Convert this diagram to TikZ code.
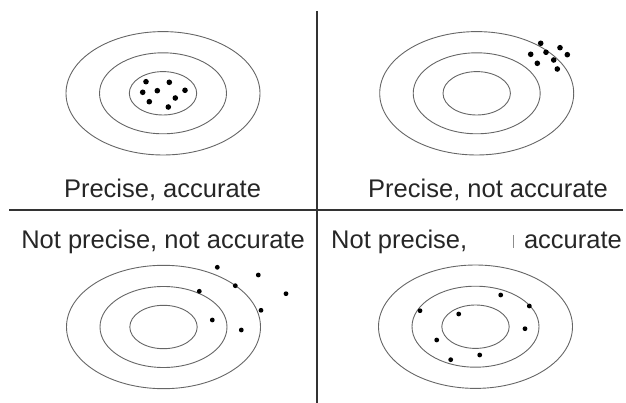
\documentclass[tikz,border=0pt]{standalone}
\usepackage{fontspec}
\setmainfont{Liberation Sans}
\begin{document}
\begin{tikzpicture}[x=1pt,y=-1pt,
  ring/.style={draw=black!60, line width=0.9pt},
  hit/.style={circle, fill=black, inner sep=0pt, minimum size=5.6pt},
  lab/.style={inner sep=0pt, text=black!85, font=\fontsize{25.5}{30}\selectfont},
  rule/.style={draw=black!80, line width=2pt}]
\useasboundingbox (0,0) rectangle (626,403);
% dividers
\coordinate (vt) at (317,11);
\coordinate (vb) at (317,403);
\coordinate (hl) at (9,210);
\coordinate (hr) at (623,210);
\draw[rule] (vt) -- (vb);
\draw[rule] (hl) -- (hr);
% targets
\foreach \cx/\cy [count=\i] in {163/93.3, 476.7/93.3, 163.5/327, 475.5/326.7}{
  \coordinate (t\i) at (\cx,\cy);
  \draw[ring] (t\i) ellipse [x radius=97, y radius=61.7];
  \draw[ring] (t\i) ellipse [x radius=63.5, y radius=40.5];
  \draw[ring] (t\i) ellipse [x radius=33.7, y radius=21.7];
}
% hits: precise, accurate
\foreach \x/\y [count=\i] in {146/81.7, 169.3/82.3, 142.7/92.3, 157.3/90.7, 185/90.3, 149.3/101.7, 175.3/98, 168.3/107}
  \node[hit] (a\i) at (\x,\y) {};
% hits: precise, not accurate
\foreach \x/\y [count=\i] in {540.7/43.3, 560/47.7, 530.7/54.3, 546/52.3, 567.3/54.7, 537.3/63.3, 553.7/60, 557.3/69}
  \node[hit] (b\i) at (\x,\y) {};
% hits: not precise, not accurate
\foreach \x/\y [count=\i] in {217.3/267.3, 258.3/275, 235.3/285.7, 286/293.7, 199.3/291.3, 261/310.3, 212.3/320, 241.3/330}
  \node[hit, minimum size=4.8pt] (c\i) at (\x,\y) {};
% hits: not precise, accurate
\foreach \x/\y [count=\i] in {500.7/295, 529.3/306, 420/310.7, 458.7/314, 525/328.7, 436.7/340, 479.7/355, 450.7/359.7}
  \node[hit, minimum size=4.8pt] (d\i) at (\x,\y) {};
% labels
\node[lab, anchor=base] (l1) at (162.5,198) {Precise, accurate};
\node[lab, anchor=base] (l2) at (488,198) {Precise, not accurate};
\node[lab, anchor=base] (l3) at (163,248) {Not precise, not accurate};
\node[lab, anchor=base west] (l4) at (331,248) {Not precise,};
\node[lab, anchor=base east] (l5) at (622,248) {accurate};
\coordinate (fa) at (513,235);
\coordinate (fb) at (513,248);
\draw[black!45, line width=0.8pt] (fa) -- (fb);
\end{tikzpicture}
\end{document}
